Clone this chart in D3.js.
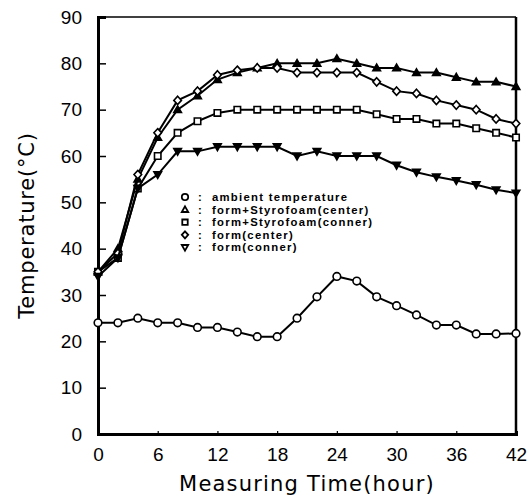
<!DOCTYPE html>
<html>
<head>
<meta charset="utf-8">
<script src="https://cdn.jsdelivr.net/npm/d3@7"></script>
<style>
  html, body { margin: 0; padding: 0; background: #fff; }
  svg { display: block; }
</style>
</head>
<body>
<svg id="chart" width="529" height="503"></svg>
<script>
// ---- data ----
const hours = [0, 2, 4, 6, 8, 10, 12, 14, 16, 18, 20, 22, 24, 26, 28, 30, 32, 34, 36, 38, 40, 42];
const ambient = [24, 24, 25, 24, 24, 23, 23, 22, 21, 21, 25, 29.6, 34, 33, 29.6, 27.7, 25.7, 23.5, 23.5, 21.6, 21.6, 21.7];
const formStyroCenter = [35, 40, 55, 64, 70, 73, 76.5, 78, 79, 80, 80, 80, 81, 80, 79, 79, 78, 78, 77, 76, 76, 75];
const formStyroConner = [35, 38, 53, 60, 65, 67.5, 69.3, 70, 70, 70, 70, 70, 70, 70, 69, 68, 68, 67, 67, 66, 65, 64];
const formCenter = [35, 39, 56, 65, 72, 74, 77.5, 78.5, 79, 79, 78, 78, 78, 78, 76, 74, 73.5, 72, 71, 70, 68, 67];
const formConner = [34, 38, 53, 56, 61, 61, 62, 62, 62, 62, 60, 61, 60, 60, 60, 58, 56.5, 55.5, 54.7, 53.8, 52.7, 52];
const xTicks = [0, 6, 12, 18, 24, 30, 36, 42];
const yTicks = [0, 10, 20, 30, 40, 50, 60, 70, 80, 90];
const legendLabels = [": ambient temperature", ": form+Styrofoam(center)", ": form+Styrofoam(conner)", ": form(center)", ": form(conner)"];

const seriesList = [
  { values: ambient, marker: "circle", fill: "#fff" },
  { values: formStyroCenter, marker: "triUp", fill: "#000" },
  { values: formStyroConner, marker: "square", fill: "#fff" },
  { values: formCenter, marker: "diamond", fill: "#fff" },
  { values: formConner, marker: "triDown", fill: "#000" }
];

const svg = d3.select("#chart");
const L = 98, R = 516, T = 17, B = 434;
const x = d3.scaleLinear().domain([0, 42]).range([L, R]);
const y = d3.scaleLinear().domain([0, 90]).range([B, T]);

const tickFont = "'Liberation Sans', Arial, sans-serif";

// frame
svg.append("line").attr("x1", L).attr("x2", R).attr("y1", T).attr("y2", T).attr("stroke", "#000").attr("stroke-width", 1.6);
svg.append("line").attr("x1", R).attr("x2", R).attr("y1", T).attr("y2", B).attr("stroke", "#000").attr("stroke-width", 2.5);

// y axis
const yAxis = d3.axisLeft(y).tickValues(yTicks).tickSize(-8).tickPadding(16).tickFormat(d3.format("d"));
const gy = svg.append("g").attr("transform", `translate(${L},0)`).call(yAxis);
gy.select(".domain").attr("stroke-width", 3);
gy.selectAll(".tick line").attr("stroke-width", 1.5);
gy.selectAll("text").attr("font-family", tickFont).attr("font-size", 19).attr("fill", "#000");

// x axis
const xAxis = d3.axisBottom(x).tickValues(xTicks).tickSize(-3).tickPadding(14).tickFormat(d3.format("d"));
const gx = svg.append("g").attr("transform", `translate(0,${B})`).call(xAxis);
gx.select(".domain").attr("stroke-width", 3);
gx.selectAll(".tick line").attr("stroke-width", 1.2);
gx.selectAll("text").attr("font-family", tickFont).attr("font-size", 19).attr("fill", "#000");

// titles
svg.append("text")
  .attr("transform", `translate(34,${(T + B) / 2}) rotate(-90)`)
  .attr("text-anchor", "middle")
  .attr("font-family", "'DejaVu Sans', sans-serif")
  .attr("font-size", 21)
  .attr("letter-spacing", 0.8)
  .text("Temperature(°C)");
svg.append("text")
  .attr("x", (L + R) / 2).attr("y", 491)
  .attr("text-anchor", "middle")
  .attr("font-family", "'DejaVu Sans', sans-serif")
  .attr("font-size", 21)
  .attr("letter-spacing", 1.2)
  .text("Measuring Time(hour)");

// markers
function markerPath(type, s) {
  switch (type) {
    case "triUp": return `M0,${-s}L${s},${s * 0.75}L${-s},${s * 0.75}Z`;
    case "triDown": return `M0,${s}L${s},${-s * 0.75}L${-s},${-s * 0.75}Z`;
    case "square": return `M${-s * 0.85},${-s * 0.85}H${s * 0.85}V${s * 0.85}H${-s * 0.85}Z`;
    case "diamond": return `M0,${-s * 1.1}L${s},0L0,${s * 1.1}L${-s},0Z`;
    default: return d3.symbol(d3.symbolCircle, Math.PI * s * s)();
  }
}

const line = d3.line().x((d, i) => x(hours[i])).y(d => y(d));

seriesList.forEach(s => {
  svg.append("path").datum(s.values)
    .attr("d", line)
    .attr("fill", "none").attr("stroke", "#000").attr("stroke-width", 2);
  svg.append("g").selectAll("path").data(s.values).join("path")
    .attr("transform", (d, i) => `translate(${x(hours[i])},${y(d)})`)
    .attr("d", markerPath(s.marker, 3.8))
    .attr("fill", s.fill).attr("stroke", "#000").attr("stroke-width", 1.6);
});

// legend
const legY0 = 197, legStep = 12.6;
const leg = svg.append("g");
seriesList.forEach((s, i) => {
  const yy = legY0 + i * legStep;
  leg.append("path")
    .attr("transform", `translate(185,${yy})`)
    .attr("d", markerPath(s.marker, 3.2))
    .attr("fill", "#fff").attr("stroke", "#000").attr("stroke-width", 1.8);
  leg.append("text").attr("x", 198).attr("y", yy + 4)
    .attr("font-family", tickFont).attr("font-weight", "bold").attr("font-size", 11.3)
    .attr("letter-spacing", 1.3)
    .attr("xml:space", "preserve")
    .text(legendLabels[i].replace(": ", ":  "));
});
</script>
</body>
</html>
